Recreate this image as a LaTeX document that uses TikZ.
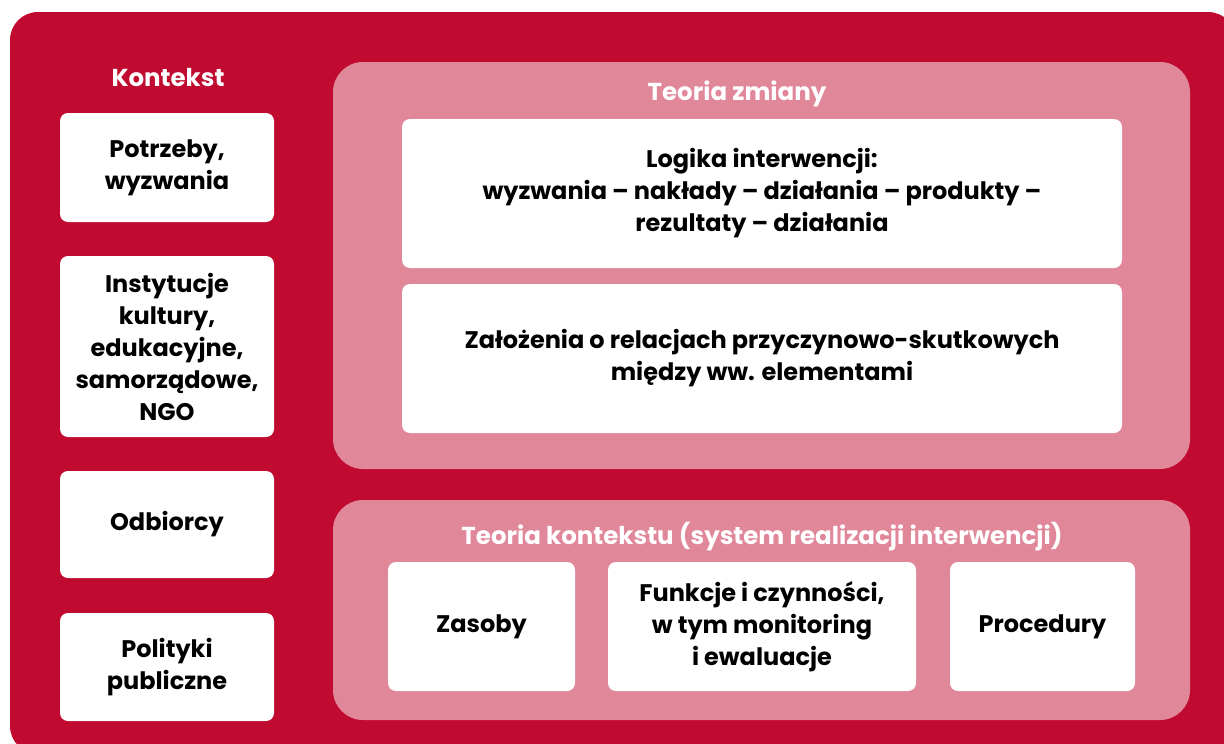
\documentclass[tikz,border=0pt]{standalone}
\usepackage{fontspec}
\setmainfont{Poppins}
\usepackage{tikz}

\definecolor{ramka}{HTML}{C00A30}
\definecolor{panel}{HTML}{E0879A}

\tikzset{
  pole/.style={fill=white, rounded corners=8pt, align=center, inner sep=0pt,
    font=\fontsize{24}{32}\selectfont\bfseries, text=black},
  tytul/.style={text=white, font=\fontsize{24.5}{32}\selectfont\bfseries}
}

\begin{document}
\begin{tikzpicture}[x=1pt,y=-1pt]
  \clip (0,0) rectangle (1224,744);
  \fill[white] (0,0) rectangle (1224,744);
  % tlo
  \fill[ramka, rounded corners=28pt] (10,12) rectangle (1236,754);
  \fill[panel, rounded corners=30pt] (333,62) rectangle (1190,469);
  \fill[panel, rounded corners=30pt] (333,500) rectangle (1190,720);

  % kontekst
  \node[tytul] (kontekst) at (168,78) {Kontekst};
  \node[pole, minimum width=214pt, minimum height=109pt] (potrzeby) at (167,167.5) {Potrzeby,\\wyzwania};
  \node[pole, minimum width=214pt, minimum height=181pt] (instytucje) at (167,346.5) {Instytucje\\kultury,\\edukacyjne,\\samorządowe,\\NGO};
  \node[pole, minimum width=214pt, minimum height=107pt] (odbiorcy) at (167,524.5) {Odbiorcy};
  \node[pole, minimum width=214pt, minimum height=108pt] (polityki) at (167,667) {Polityki\\publiczne};

  % teoria zmiany
  \node[tytul] (zmiana) at (737,94) {Teoria zmiany};
  \node[pole, minimum width=720pt, minimum height=149pt] (logika) at (762,193.5) {Logika interwencji:\\wyzwania – nakłady – działania – produkty –\\rezultaty – działania};
  \node[pole, minimum width=720pt, minimum height=149pt] (zalozenia) at (762,358.5) {Założenia o relacjach przyczynowo-skutkowych\\między ww. elementami};

  % teoria kontekstu
  \node[tytul] (kontekstu) at (762,537) {Teoria kontekstu (system realizacji interwencji)};
  \node[pole, minimum width=187pt, minimum height=129pt] (zasoby) at (481.5,626.5) {Zasoby};
  \node[pole, minimum width=308pt, minimum height=129pt] (funkcje) at (762,626.5) {Funkcje i czynności,\\w tym monitoring\\i ewaluacje};
  \node[pole, minimum width=185pt, minimum height=129pt] (procedury) at (1042.5,626.5) {Procedury};
\end{tikzpicture}
\end{document}
